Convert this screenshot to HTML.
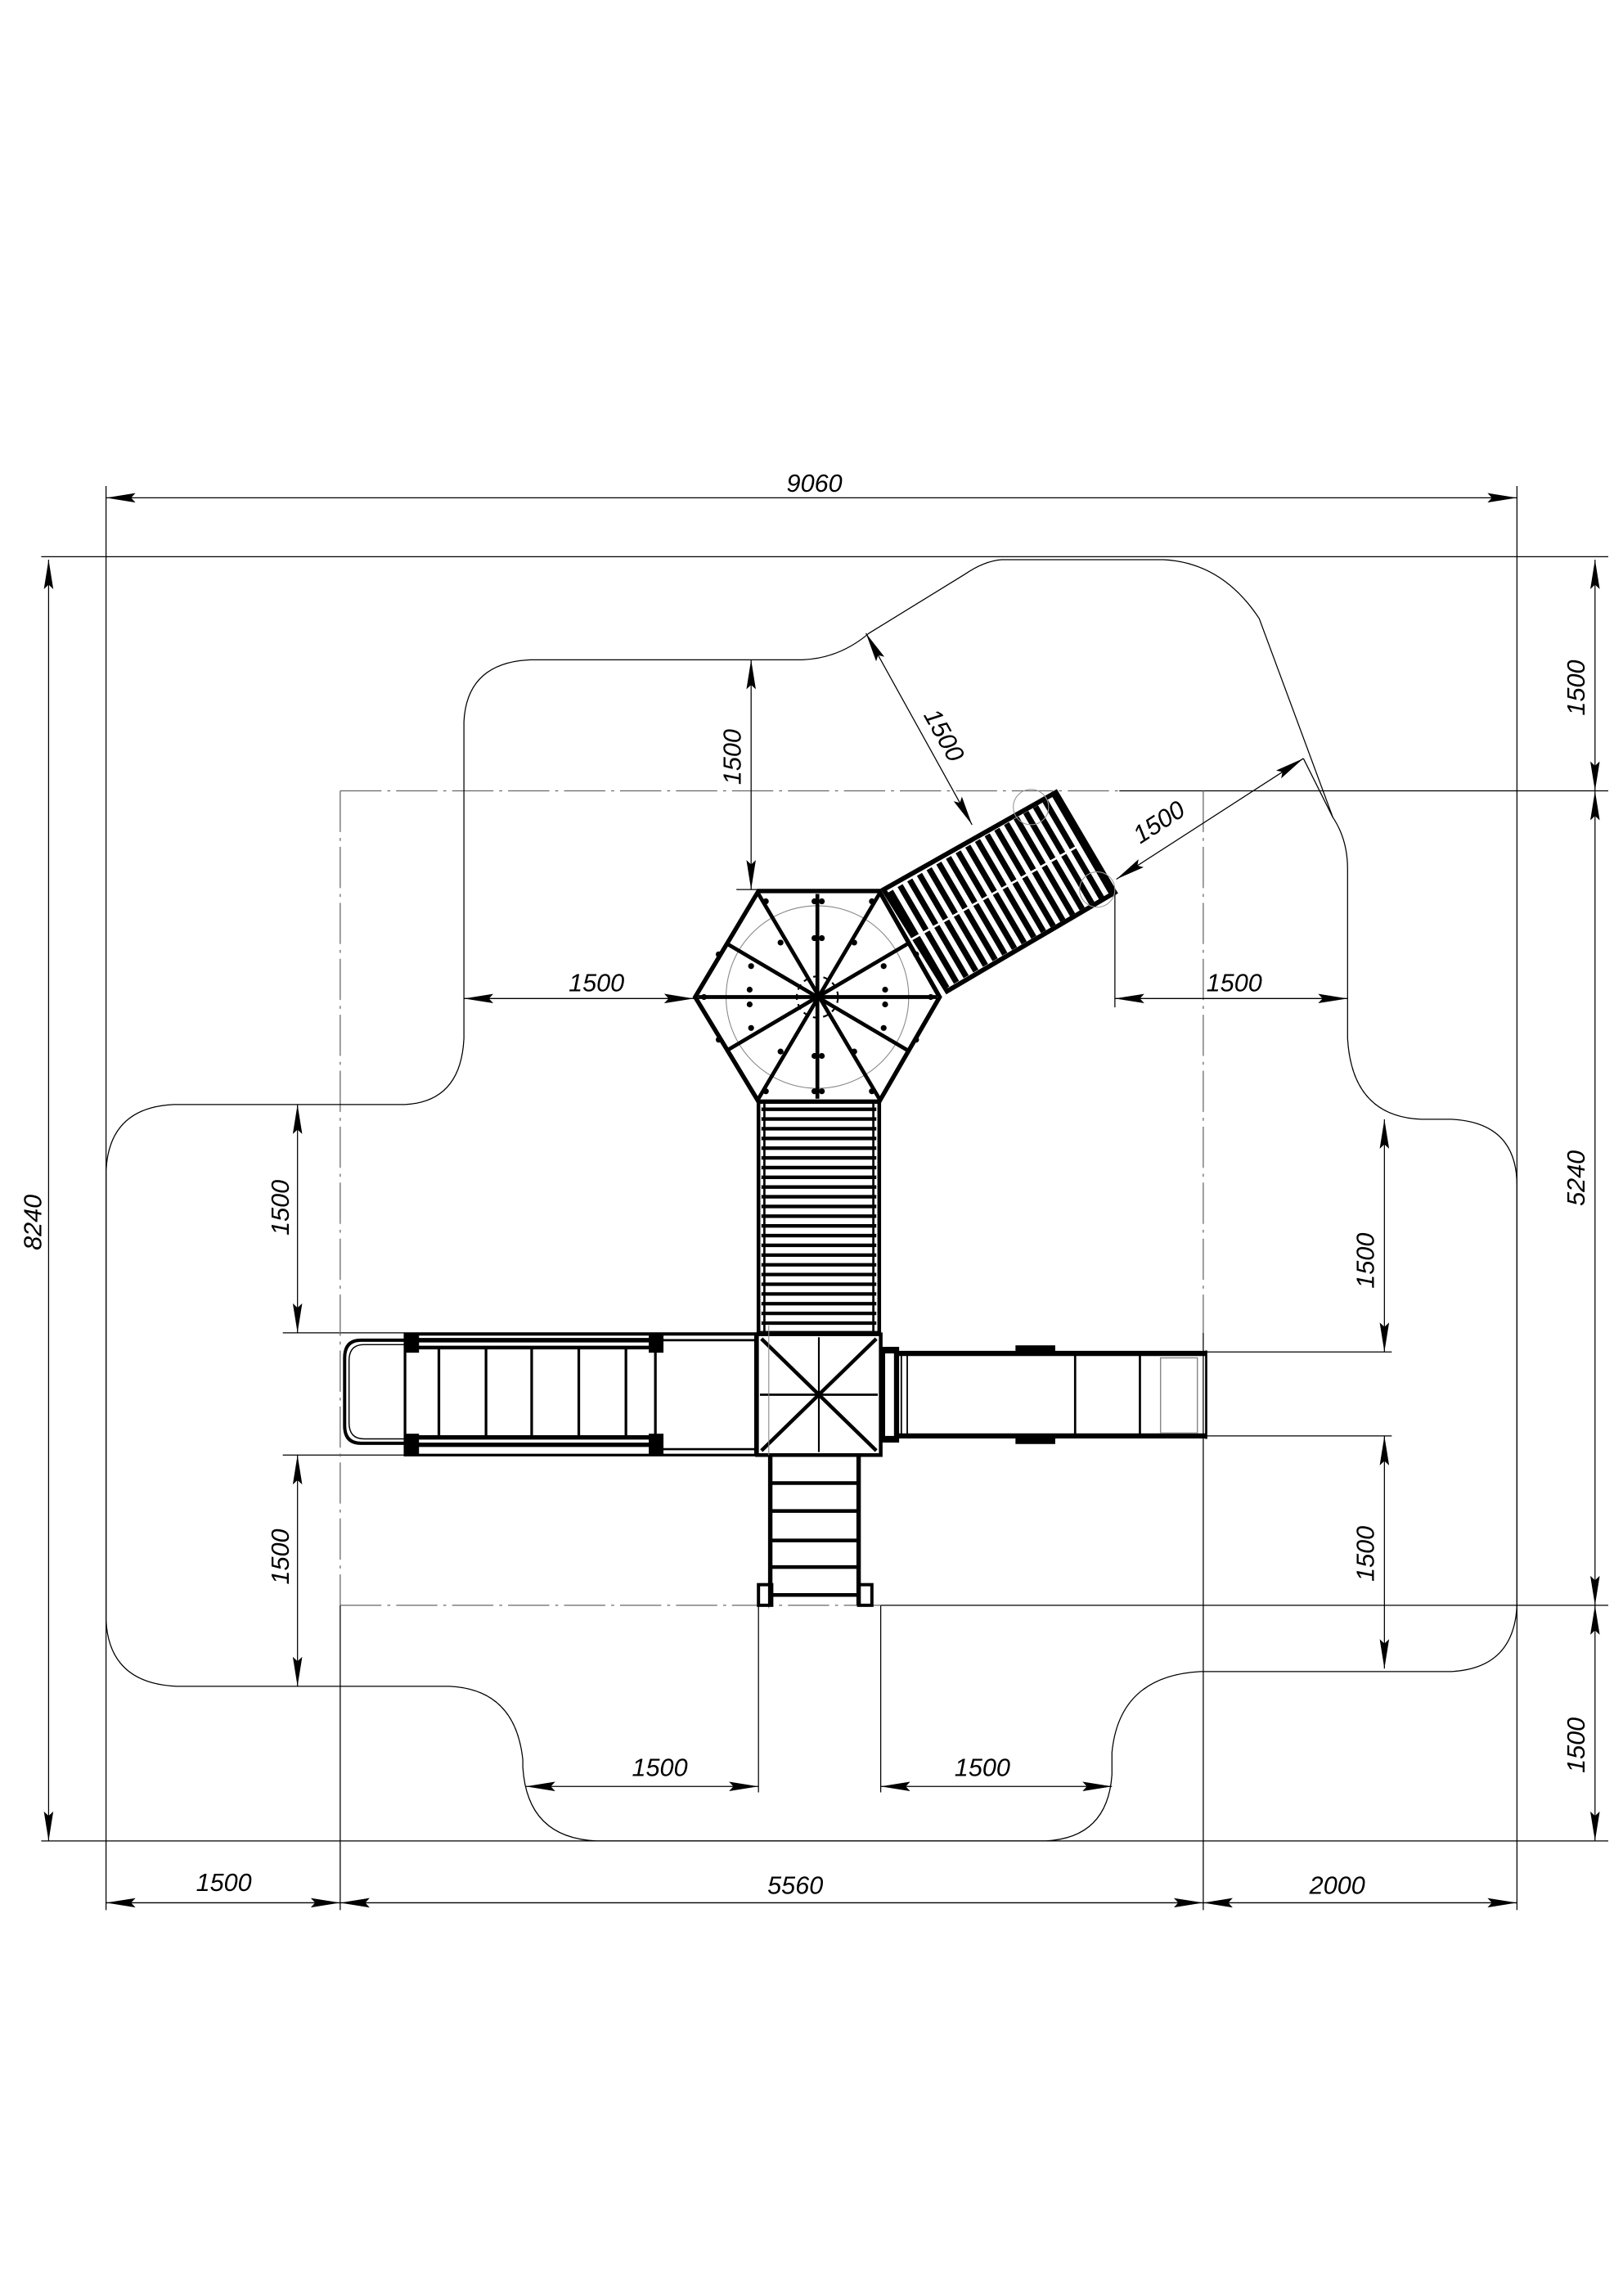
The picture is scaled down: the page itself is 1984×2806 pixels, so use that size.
<!DOCTYPE html>
<html><head><meta charset="utf-8"><style>html,body{margin:0;padding:0;background:#fff}svg{display:block}</style></head>
<body>
<svg width="1984" height="2806" viewBox="0 0 1102 1559" preserveAspectRatio="none" xmlns="http://www.w3.org/2000/svg">
<defs>
<marker id="a" viewBox="0 0 20 8" refX="20" refY="4" markerWidth="20" markerHeight="8" markerUnits="userSpaceOnUse" orient="auto-start-reverse">
<path d="M20,4 L0,0.8 L3,4 L0,7.2 Z" fill="#000"/>
</marker>
</defs>
<rect width="1102" height="1559" fill="#fff"/>
<g stroke="#000" stroke-width="0.7" fill="none">
<line x1="72" y1="330" x2="72" y2="1297"/>
<line x1="1030" y1="330" x2="1030" y2="1297"/>
<line x1="28" y1="378" x2="1092" y2="378"/>
<line x1="28" y1="1250" x2="1092" y2="1250"/>
<line x1="760" y1="537" x2="1092" y2="537"/>
<line x1="598" y1="1090" x2="1092" y2="1090"/>
<line x1="231" y1="1090" x2="231" y2="1297"/>
<line x1="817" y1="905" x2="817" y2="1297"/>
<line x1="515" y1="1090" x2="515" y2="1217"/>
<line x1="598" y1="1090" x2="598" y2="1217"/>
<line x1="757" y1="605" x2="757" y2="684"/>
<line x1="192" y1="905" x2="515" y2="905"/>
<line x1="192" y1="988" x2="280" y2="988"/>
<line x1="815" y1="918" x2="945" y2="918"/>
<line x1="815" y1="975" x2="945" y2="975"/>
<line x1="500" y1="604" x2="515" y2="604"/>
<g stroke="#666" stroke-dasharray="28 4 2 4">
<line x1="231" y1="537" x2="760" y2="537"/>
<line x1="231" y1="537" x2="231" y2="1090"/>
<line x1="817" y1="537" x2="817" y2="905"/>
<line x1="231" y1="1090" x2="598" y2="1090"/>
</g>
<path d="M680,380 L790,380 Q830,382 855,420 L905,555 Q915,570 915,590 L915,705 Q918,758 965,760 L985,760 Q1030,762 1030,805 L1030,1090 Q1028,1133 985,1135 L815,1135 Q760,1138 755,1190 L755,1205 Q752,1248 710,1250 L405,1250 Q358,1248 355,1200 L355,1195 Q350,1147 305,1145 L120,1145 Q74,1143 72,1100 L72,795 Q74,752 118,750 L275,750 Q313,748 315,705 L315,490 Q317,450 360,448 L545,448 Q570,447 590,430 L655,390 Q668,381 680,380 Z"/>
<g marker-start="url(#a)" marker-end="url(#a)">
<line x1="72" y1="338" x2="1030" y2="338"/>
<line x1="33" y1="380" x2="33" y2="1250"/>
<line x1="1083" y1="380" x2="1083" y2="537"/>
<line x1="1083" y1="537" x2="1083" y2="1090"/>
<line x1="1083" y1="1090" x2="1083" y2="1250"/>
<line x1="72" y1="1292" x2="231" y2="1292"/>
<line x1="231" y1="1292" x2="817" y2="1292"/>
<line x1="817" y1="1292" x2="1030" y2="1292"/>
<line x1="510" y1="448" x2="510" y2="604"/>
<line x1="588" y1="430" x2="660" y2="560"/>
<line x1="885" y1="515" x2="758" y2="597"/>
<line x1="315" y1="678" x2="471" y2="678"/>
<line x1="757" y1="678" x2="915" y2="678"/>
<line x1="202" y1="750" x2="202" y2="905"/>
<line x1="202" y1="988" x2="202" y2="1145"/>
<line x1="940" y1="760" x2="940" y2="918"/>
<line x1="940" y1="975" x2="940" y2="1133"/>
<line x1="357" y1="1213" x2="515" y2="1213"/>
<line x1="598" y1="1213" x2="755" y2="1213"/>
</g>
<line x1="885" y1="515" x2="905" y2="555"/>
</g>

<g font-family="Liberation Sans, sans-serif" font-style="italic" font-size="17" text-anchor="middle" fill="#000">
<text x="553" y="334">9060</text>
<text transform="translate(28,830) rotate(-90)">8240</text>
<text transform="translate(1076,467) rotate(-90)">1500</text>
<text transform="translate(1076,800) rotate(-90)">5240</text>
<text transform="translate(1076,1185) rotate(-90)">1500</text>
<text x="152" y="1284">1500</text>
<text x="540" y="1286">5560</text>
<text x="908" y="1286">2000</text>
<text transform="translate(503,514) rotate(-90)">1500</text>
<text transform="translate(636,502) rotate(61)">1500</text>
<text transform="translate(790,563) rotate(-33)">1500</text>
<text x="405" y="673">1500</text>
<text x="838" y="673">1500</text>
<text transform="translate(196,820) rotate(-90)">1500</text>
<text transform="translate(196,1057) rotate(-90)">1500</text>
<text transform="translate(933,856) rotate(-90)">1500</text>
<text transform="translate(933,1055) rotate(-90)">1500</text>
<text x="448" y="1206">1500</text>
<text x="667" y="1206">1500</text>
</g>

<g>
<line x1="622" y1="639" x2="737" y2="572" stroke="#000" stroke-width="76" stroke-dasharray="4 3.6"/>
<polygon points="600,604 717,538 757,606 643,673" fill="none" stroke="#000" stroke-width="3.2"/>
<line x1="615" y1="640" x2="731" y2="575" stroke="#fff" stroke-width="1.5"/>
<circle cx="700" cy="548" r="12" fill="none" stroke="#999" stroke-width="0.6"/>
<circle cx="745" cy="604" r="12" fill="none" stroke="#999" stroke-width="0.6"/>
</g>

<g stroke="#000">
<polygon points="515,605 597,605 638,677 597,748 515,748 472,677" fill="#fff" stroke-width="3"/>
<circle cx="555" cy="677" r="62" fill="none" stroke="#888" stroke-width="0.6"/>
<circle cx="555" cy="677" r="14" fill="none" stroke="#000" stroke-width="1.2" stroke-dasharray="4 3"/>
<g stroke-width="2.6">
<line x1="515" y1="607" x2="597" y2="746"/>
<line x1="597" y1="607" x2="515" y2="746"/>
<line x1="474" y1="677" x2="636" y2="677"/>
<line x1="555" y1="607" x2="555" y2="746"/>
<line x1="494" y1="641" x2="616" y2="713"/>
<line x1="616" y1="641" x2="494" y2="713"/>
</g>
<g fill="#000" stroke="none">
<circle cx="520" cy="612" r="2"/><circle cx="592" cy="612" r="2"/><circle cx="553" cy="612" r="2"/><circle cx="558" cy="612" r="2"/>
<circle cx="520" cy="741" r="2"/><circle cx="592" cy="741" r="2"/><circle cx="553" cy="741" r="2"/><circle cx="558" cy="741" r="2"/>
<circle cx="478" cy="677" r="2"/><circle cx="632" cy="677" r="2"/>
<circle cx="553" cy="637" r="2"/><circle cx="558" cy="637" r="2"/><circle cx="553" cy="717" r="2"/><circle cx="558" cy="717" r="2"/>
<circle cx="530" cy="640" r="2"/><circle cx="580" cy="640" r="2"/><circle cx="530" cy="714" r="2"/><circle cx="580" cy="714" r="2"/>
<circle cx="509" cy="672" r="2"/><circle cx="509" cy="682" r="2"/><circle cx="601" cy="672" r="2"/><circle cx="601" cy="682" r="2"/>
<circle cx="510" cy="656" r="2"/><circle cx="600" cy="656" r="2"/><circle cx="510" cy="698" r="2"/><circle cx="600" cy="698" r="2"/>
<circle cx="488" cy="648" r="2"/><circle cx="622" cy="648" r="2"/><circle cx="488" cy="706" r="2"/><circle cx="622" cy="706" r="2"/>
</g>
</g>

<line x1="556" y1="752" x2="556" y2="904" stroke="#000" stroke-width="78" stroke-dasharray="2.4 4.2"/>
<rect x="515" y="748" width="82" height="157" fill="none" stroke="#000" stroke-width="2.5"/>
<line x1="519" y1="748" x2="519" y2="905" stroke="#000" stroke-width="1.5"/>
<line x1="593" y1="748" x2="593" y2="905" stroke="#000" stroke-width="1.5"/>

<g stroke="#000">
<rect x="514" y="906" width="84" height="82" fill="#fff" stroke-width="2.5"/>
<line x1="517" y1="909" x2="595" y2="985" stroke-width="2.5"/>
<line x1="595" y1="909" x2="517" y2="985" stroke-width="2.5"/>
<line x1="556" y1="908" x2="556" y2="986" stroke-width="1.2"/>
<line x1="516" y1="947" x2="596" y2="947" stroke-width="1.5"/>
<line x1="522" y1="900" x2="522" y2="1092" stroke="#888" stroke-width="0.6"/>
</g>

<g stroke="#000" fill="none">
<path d="M276,910 L245,910 Q234,910 234,922 L234,968 Q234,980 245,980 L276,980" stroke-width="2.2"/>
<path d="M276,913 L247,913 Q237,913 237,924 L237,966 Q237,977 247,977 L276,977" stroke-width="0.8"/>
<rect x="275" y="906" width="238" height="82" stroke-width="1.8"/>
<line x1="280" y1="910" x2="450" y2="910" stroke-width="3"/>
<line x1="280" y1="915" x2="450" y2="915" stroke-width="2.5"/>
<line x1="280" y1="976" x2="450" y2="976" stroke-width="3"/>
<line x1="280" y1="981" x2="450" y2="981" stroke-width="3"/>
<line x1="450" y1="910" x2="513" y2="910" stroke-width="1.5"/>
<line x1="450" y1="984" x2="513" y2="984" stroke-width="1.5"/>
<g stroke-width="1.8">
<line x1="298" y1="916" x2="298" y2="975"/>
<line x1="330" y1="916" x2="330" y2="975"/>
<line x1="361" y1="916" x2="361" y2="975"/>
<line x1="393" y1="916" x2="393" y2="975"/>
<line x1="425" y1="916" x2="425" y2="975"/>
<line x1="445" y1="916" x2="445" y2="975"/>
</g>
<rect x="276" y="906" width="8" height="12" fill="#000"/>
<rect x="276" y="974" width="8" height="13" fill="#000"/>
<rect x="441" y="906" width="9" height="12" fill="#000"/>
<rect x="441" y="974" width="9" height="13" fill="#000"/>
</g>

<g stroke="#000" fill="none">
<rect x="598" y="915" width="12" height="64" fill="#000"/>
<rect x="601" y="919" width="6" height="56" fill="#fff" stroke="none"/>
<line x1="610" y1="919" x2="819" y2="919" stroke-width="3.5"/>
<line x1="610" y1="975" x2="819" y2="975" stroke-width="3.5"/>
<line x1="612" y1="919" x2="612" y2="975" stroke-width="1"/>
<line x1="616" y1="919" x2="616" y2="975" stroke-width="1"/>
<line x1="730" y1="919" x2="730" y2="975" stroke-width="1.5"/>
<line x1="774" y1="919" x2="774" y2="975" stroke-width="1.5"/>
<rect x="788" y="922" width="25" height="51" stroke="#888" stroke-width="0.8"/>
<line x1="819" y1="917" x2="819" y2="977" stroke-width="1.5"/>
<rect x="690" y="914" width="26" height="6" fill="#000"/>
<rect x="690" y="974" width="26" height="6" fill="#000"/>
</g>

<g stroke="#000" fill="none">
<line x1="523" y1="988" x2="523" y2="1090" stroke-width="3"/>
<line x1="583" y1="988" x2="583" y2="1090" stroke-width="3"/>
<g stroke-width="2.5">
<line x1="523" y1="1007" x2="583" y2="1007"/>
<line x1="523" y1="1026" x2="583" y2="1026"/>
<line x1="523" y1="1046" x2="583" y2="1046"/>
<line x1="523" y1="1064" x2="583" y2="1064"/>
<line x1="523" y1="1083" x2="583" y2="1083"/>
</g>
<rect x="515" y="1076" width="9" height="14" stroke-width="2.2"/>
<rect x="583" y="1076" width="9" height="14" stroke-width="2.2"/>
</g>
</svg>
</body></html>
